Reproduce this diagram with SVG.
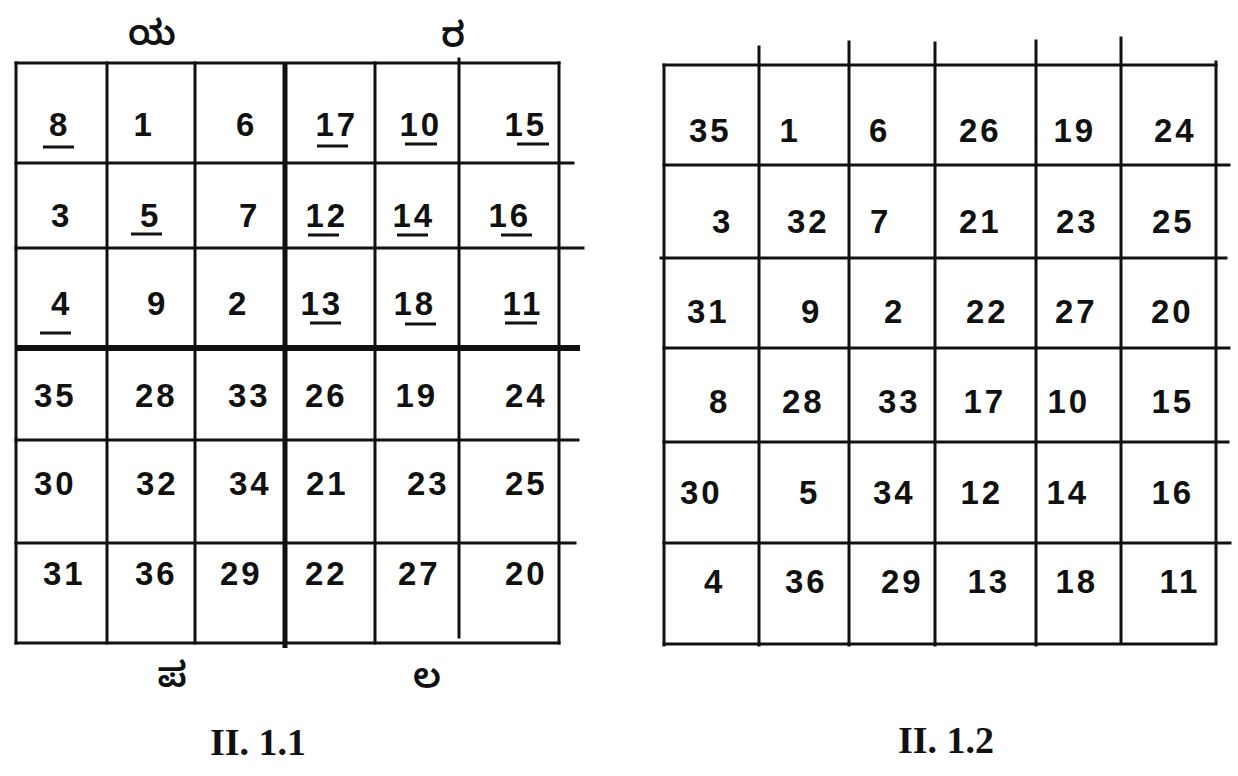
<svg xmlns="http://www.w3.org/2000/svg" width="1238" height="776" viewBox="0 0 1238 776">
<style>
.bg{fill:#fff}
.g{stroke:#111;stroke-width:3;fill:none;stroke-linecap:square}
.t{stroke:#111;stroke-width:6;fill:none}
.tv{stroke:#111;stroke-width:5;fill:none}
.u{stroke:#111;stroke-width:3}
.n{font-family:"Liberation Sans",Arial,sans-serif;font-weight:bold;font-size:33px;letter-spacing:3px;fill:#111}
.k{font-family:"Noto Sans Kannada","Noto Sans",sans-serif;font-size:35px;font-weight:600;fill:#111;text-anchor:middle}
.c{font-family:"Liberation Serif","Times New Roman",serif;font-weight:bold;font-size:38px;fill:#111}
</style>
<rect class="bg" width="1238" height="776"/>
<g id="grid-1-1">
  <g id="grid-1-1-lines">
    <path class="g" d="M16 63V643M107 63V643M195 63V643M375 63V643M459 59V637M559 63V643"/>
    <path class="g" d="M16 63H559M16 163H573M16 248H583M16 440H578M16 543H575M16 643H559"/>
    <path class="tv" d="M285 63V648"/>
    <path class="t" d="M16 348H580"/>
  </g>
  <g id="grid-1-1-underlines">
    <path class="u" d="M43 147H74M317 146H348M405 144H437M517 144H549M131 234H162M308 235H339M397 235H428M501 235H532M40 333H71M310 323H341M405 324H436M505 323H537"/>
  </g>
  <g id="grid-1-1-numbers">
    <text class="n" x="49" y="136">8</text><text class="n" x="133.5" y="136">1</text><text class="n" x="236" y="136">6</text><text class="n" x="315.5" y="136">17</text><text class="n" x="399.5" y="136">10</text><text class="n" x="504.5" y="136">15</text>
    <text class="n" x="51" y="227">3</text><text class="n" x="140" y="227">5</text><text class="n" x="239" y="227">7</text><text class="n" x="305.5" y="227">12</text><text class="n" x="392.5" y="227">14</text><text class="n" x="488.5" y="227">16</text>
    <text class="n" x="51" y="315">4</text><text class="n" x="147" y="315">9</text><text class="n" x="228" y="315">2</text><text class="n" x="300.5" y="315">13</text><text class="n" x="393.5" y="315">18</text><text class="n" x="502.5" y="315">11</text>
    <text class="n" x="34" y="407">35</text><text class="n" x="135" y="407">28</text><text class="n" x="228" y="407">33</text><text class="n" x="305" y="407">26</text><text class="n" x="395.5" y="407">19</text><text class="n" x="505" y="407">24</text>
    <text class="n" x="34" y="495">30</text><text class="n" x="136" y="495">32</text><text class="n" x="229" y="495">34</text><text class="n" x="306" y="495">21</text><text class="n" x="407" y="495">23</text><text class="n" x="505" y="495">25</text>
    <text class="n" x="43" y="585">31</text><text class="n" x="135" y="585">36</text><text class="n" x="220" y="585">29</text><text class="n" x="305" y="585">22</text><text class="n" x="398" y="585">27</text><text class="n" x="505" y="585">20</text>
  </g>
  <g id="grid-1-1-letters">
    <text class="k" x="152" y="45">ಯ</text>
    <text class="k" x="453" y="47">ರ</text>
    <text class="k" x="172" y="687">ಪ</text>
    <text class="k" x="427" y="688">ಲ</text>
  </g>
  <text id="caption-1-1" class="c" x="210" y="755">II. 1.1</text>
</g>
<g id="grid-1-2">
  <g id="grid-1-2-lines">
    <path class="g" d="M664 65V645M759 47V645M849 42V645M935 43V645M1036 41V645M1121 38V643M1216 62V642"/>
    <path class="g" d="M664 65H1216M664 165H1229M661 258H1226M664 348H1229M664 442H1228M664 543H1230M664 644H1216"/>
  </g>
  <g id="grid-1-2-numbers">
    <text class="n" x="689" y="142">35</text><text class="n" x="779.5" y="142">1</text><text class="n" x="869" y="142">6</text><text class="n" x="959" y="142">26</text><text class="n" x="1053.5" y="142">19</text><text class="n" x="1154" y="142">24</text>
    <text class="n" x="712" y="233">3</text><text class="n" x="787" y="233">32</text><text class="n" x="870" y="233">7</text><text class="n" x="959" y="233">21</text><text class="n" x="1056" y="233">23</text><text class="n" x="1152" y="233">25</text>
    <text class="n" x="687" y="323">31</text><text class="n" x="801" y="323">9</text><text class="n" x="884" y="323">2</text><text class="n" x="966" y="323">22</text><text class="n" x="1055" y="323">27</text><text class="n" x="1151" y="323">20</text>
    <text class="n" x="709" y="413">8</text><text class="n" x="782" y="413">28</text><text class="n" x="878" y="413">33</text><text class="n" x="963.5" y="413">17</text><text class="n" x="1047.5" y="413">10</text><text class="n" x="1151.5" y="413">15</text>
    <text class="n" x="680" y="504">30</text><text class="n" x="799" y="504">5</text><text class="n" x="873" y="504">34</text><text class="n" x="960.5" y="504">12</text><text class="n" x="1046.5" y="504">14</text><text class="n" x="1151.5" y="504">16</text>
    <text class="n" x="704" y="593">4</text><text class="n" x="785" y="593">36</text><text class="n" x="881" y="593">29</text><text class="n" x="967.5" y="593">13</text><text class="n" x="1055.5" y="593">18</text><text class="n" x="1159.5" y="593">11</text>
  </g>
  <text id="caption-1-2" class="c" x="898" y="753">II. 1.2</text>
</g>
</svg>
